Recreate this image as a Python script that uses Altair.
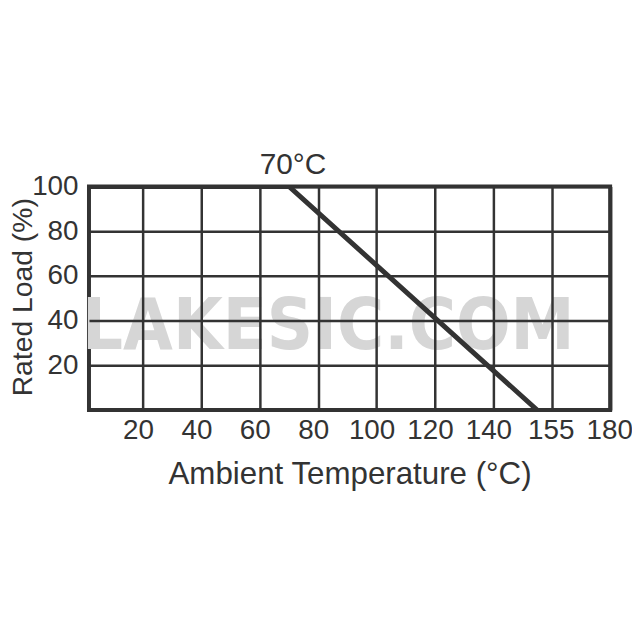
import altair as alt
import pandas as pd

# ---- data ----
temp = [0, 70, 155]          # ambient temperature (°C)
load = [100, 100, 0]         # rated load (%)
x_ticks = [20, 40, 60, 80, 100, 120, 140, 160, 180]
x_tick_labels = ["20", "40", "60", "80", "100", "120", "140", "155", "180"]
y_ticks = [20, 40, 60, 80, 100]
knee_temp = [70]
knee_load = [100]
knee_label = ["70°C"]
wm_temp = [83.5]
wm_load = [27.5]
wm_text = ["LAKESIC.COM"]

INK = "#333333"
FONT = "Liberation Sans"

curve = pd.DataFrame({"temp": temp, "load": load})
knee = pd.DataFrame({"temp": knee_temp, "load": knee_load, "label": knee_label})
wm = pd.DataFrame({"temp": wm_temp, "load": wm_load, "label": wm_text})

label_expr = " : ".join(
    f"datum.value == {v} ? '{l}'" for v, l in zip(x_ticks, x_tick_labels)
) + " : datum.label"

xscale = alt.Scale(domain=[1.5, 180], nice=False, zero=False)
yscale = alt.Scale(domain=[0, 100], nice=False)

xaxis = alt.Axis(values=x_ticks, labelExpr=label_expr, labelFontSize=28,
                 labelPadding=7,
                 labelOffset={"condition": {"test": "datum.value >= 160", "value": -1},
                              "value": -5},
                 titleFontSize=31.5, titlePadding=14, zindex=1,
                 labelFlush=False, labelOverlap=False)
yaxis = alt.Axis(values=y_ticks, labelFontSize=28, labelPadding=11,
                 titleFontSize=28.5, titleX=-58, titleY=111, titleAngle=270,
                 titleAlign="center", titleBaseline="alphabetic",
                 zindex=1, labelOverlap=False)

watermark = alt.Chart(wm).mark_text(
    font="DejaVu Sans Condensed, DejaVu Sans", fontWeight="bold", fontSize=72,
    color="#d6d6d6", baseline="alphabetic", align="center"
).encode(
    x=alt.X("temp:Q", scale=xscale, axis=xaxis, title="Ambient Temperature (°C)"),
    y=alt.Y("load:Q", scale=yscale, axis=yaxis, title="Rated Load (%)"),
    text="label:N",
)

line = alt.Chart(curve).mark_line(color=INK, strokeWidth=5, clip=True).encode(
    x=alt.X("temp:Q", scale=xscale),
    y=alt.Y("load:Q", scale=yscale),
)

knee_text = alt.Chart(knee).mark_text(
    font=FONT, fontSize=30, color=INK, baseline="alphabetic", align="center",
    dx=4, dy=-13
).encode(
    x=alt.X("temp:Q", scale=xscale),
    y=alt.Y("load:Q", scale=yscale),
    text="label:N",
)

chart = alt.layer(watermark, line, knee_text).properties(
    width=524.5, height=225,
    autosize=alt.AutoSizeParams(type="none"),
    padding={"left": 81.5, "top": 178, "right": 22, "bottom": 90},
    background="white",
).configure_view(
    stroke=INK, strokeWidth=4
).configure_axis(
    grid=True, gridColor=INK, gridWidth=2.5, gridOpacity=1,
    domain=False, ticks=False, tickSize=0,
    labelFont=FONT, labelColor=INK, titleFont=FONT, titleColor=INK,
    titleFontWeight="normal",
)

chart.save("out.html", embed_options={"renderer": "svg", "actions": False})
